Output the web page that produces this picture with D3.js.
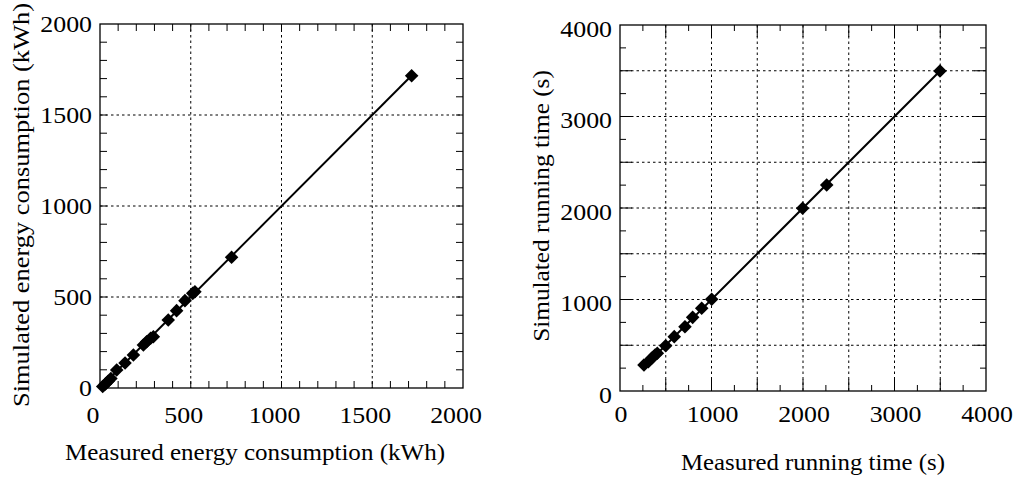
<!DOCTYPE html>
<html>
<head>
<meta charset="utf-8">
<script src="https://cdn.jsdelivr.net/npm/d3@7"></script>
<style>
body { margin: 0; background: #fff; }
svg { display: block; }
text { font-family: "Liberation Serif", "Times New Roman", serif; fill: #000; }
</style>
</head>
<body>
<script>
// left panel: energy (kWh)
var energyMeasured  = [15, 30, 45, 60, 92, 138, 184, 239, 257, 279, 294, 376, 422, 468, 511, 523, 725, 1717];
var energySimulated = [8, 22, 37, 52, 99, 137, 181, 236, 254, 273, 282, 374, 425, 480, 520, 529, 718, 1716];
var energyFit = [15, 1717];
var energyTicks = [0, 500, 1000, 1500, 2000];

// right panel: running time (s)
var timeMeasured  = [262, 310, 346, 383, 408, 499, 593, 710, 794, 893, 1002, 1996, 2259, 3497];
var timeSimulated = [284, 320, 357, 393, 412, 495, 594, 703, 805, 904, 1002, 1997, 2251, 3497];
var timeFit = [270, 3497];
var timeTicks = [0, 1000, 2000, 3000, 4000];

var W = 1015, H = 477;
var svg = d3.select("body").append("svg").attr("width", W).attr("height", H);

function panel(opt)
{
    var g = svg.append("g");
    var x = d3.scaleLinear().domain([0, opt.max]).range([opt.left, opt.right]);
    var y = d3.scaleLinear().domain([0, opt.max]).range([opt.bottom, opt.top]);

    // grid
    var grid = d3.range(opt.grid, opt.max, opt.grid);
    g.selectAll(".gx").data(grid).enter().append("line")
        .attr("x1", d => x(d)).attr("x2", d => x(d))
        .attr("y1", opt.top).attr("y2", opt.bottom)
        .attr("stroke", "#000").attr("stroke-width", 1).attr("stroke-dasharray", "2.5,3");
    g.selectAll(".gy").data(grid).enter().append("line")
        .attr("y1", d => y(d)).attr("y2", d => y(d))
        .attr("x1", opt.left).attr("x2", opt.right)
        .attr("stroke", "#000").attr("stroke-width", 1).attr("stroke-dasharray", "2.5,3");

    // inward ticks on all four sides
    var minor = d3.range(opt.minor, opt.max, opt.minor);
    function len(d) { return (d % opt.grid === 0) ? opt.majorLen : opt.minorLen; }
    var t = g.append("g").attr("stroke", "#000").attr("stroke-width", 1);
    minor.forEach(function(d) {
        t.append("line").attr("x1", x(d)).attr("x2", x(d)).attr("y1", opt.bottom).attr("y2", opt.bottom - len(d));
        t.append("line").attr("x1", x(d)).attr("x2", x(d)).attr("y1", opt.top).attr("y2", opt.top + len(d));
        t.append("line").attr("y1", y(d)).attr("y2", y(d)).attr("x1", opt.left).attr("x2", opt.left + len(d));
        t.append("line").attr("y1", y(d)).attr("y2", y(d)).attr("x1", opt.right).attr("x2", opt.right - len(d));
    });

    // frame
    g.append("rect").attr("x", opt.left).attr("y", opt.top)
        .attr("width", opt.right - opt.left).attr("height", opt.bottom - opt.top)
        .attr("fill", "none").attr("stroke", "#000").attr("stroke-width", 1.3);

    // tick labels (the original type is a bit wide, so stretch horizontally)
    g.selectAll(".xl").data(opt.ticks).enter().append("text")
        .attr("transform", d => "translate(" + (x(d) + opt.xdx) + "," + (opt.bottom + opt.xly) + ") scale(1.15,1)")
        .attr("text-anchor", "middle").attr("font-size", 22.5).text(d => d);
    g.selectAll(".yl").data(opt.ticks).enter().append("text")
        .attr("transform", d => "translate(" + (opt.left - 8) + "," + (y(d) + opt.ydy) + ") scale(1.15,1)")
        .attr("text-anchor", "end").attr("dominant-baseline", "central").attr("font-size", 22.5).text(d => d);

    // fit line
    g.append("line")
        .attr("x1", x(opt.fit[0])).attr("y1", y(opt.fit[0]))
        .attr("x2", x(opt.fit[1])).attr("y2", y(opt.fit[1]))
        .attr("stroke", "#000").attr("stroke-width", 2);

    // points
    var sym = d3.symbol().type(d3.symbolSquare).size(92);
    g.selectAll(".pt").data(opt.mx).enter().append("path")
        .attr("d", sym)
        .attr("transform", (d, i) => "translate(" + x(d) + "," + y(opt.my[i]) + ") rotate(45)")
        .attr("fill", "#000");

    // axis titles
    g.append("text").attr("transform", "translate(" + opt.xtx + "," + opt.xty + ") scale(" + opt.sx + ",1)")
        .attr("text-anchor", "middle").attr("font-size", 23).text(opt.xtitle);
    g.append("text").attr("transform", "translate(" + opt.ytx + "," + opt.yty + ") rotate(-90) scale(" + opt.sy + ",1)")
        .attr("text-anchor", "middle").attr("font-size", 23).text(opt.ytitle);
}

panel({
    left: 100, right: 463, top: 24, bottom: 388, max: 2000,
    grid: 500, minor: 100, majorLen: 7, minorLen: 7,
    ticks: energyTicks, xdx: -7, ydy: 0, xly: 35,
    mx: energyMeasured, my: energySimulated, fit: energyFit,
    xtitle: "Measured energy consumption (kWh)", xtx: 255, xty: 460, sx: 1.09,
    ytitle: "Simulated energy consumption (kWh)", ytx: 29, yty: 205, sy: 1.15
});

panel({
    left: 620, right: 986, top: 25, bottom: 391, max: 4000,
    grid: 500, minor: 250, majorLen: 12, minorLen: 6,
    ticks: timeTicks, xdx: 1, ydy: 4, xly: 31,
    mx: timeMeasured, my: timeSimulated, fit: timeFit,
    xtitle: "Measured running time (s)", xtx: 813, xty: 470, sx: 1.08,
    ytitle: "Simulated running time (s)", ytx: 549, yty: 206, sy: 1.1
});
</script>
</body>
</html>
